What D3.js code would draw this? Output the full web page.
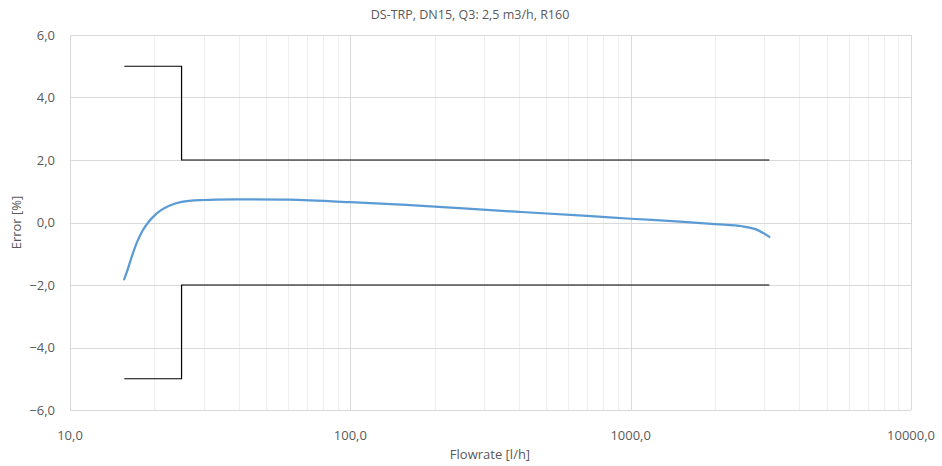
<!DOCTYPE html>
<meta charset="utf-8">
<title>DS-TRP, DN15</title>
<style>
  body { margin: 0; background: #fff; }
  text { font-family: "Open Sans", sans-serif; fill: #595959; }
</style>
<body>
  <div id="container"></div>
  <script src="https://cdn.jsdelivr.net/npm/d3@7/dist/d3.min.js"></script>
  <script>

    const width = 942;
    const height = 466;

    // measured curve
    const flow = [15.6, 16.0, 16.6, 17.3, 18.1, 19, 20, 21, 22.5, 25, 30, 40, 60, 100, 200, 400, 700, 1000, 1500, 2000, 2500, 2800, 3125];
    const error = [-1.82, -1.55, -1.1, -0.65, -0.28, 0.0, 0.22, 0.38, 0.53, 0.66, 0.72, 0.74, 0.73, 0.65, 0.51, 0.34, 0.21, 0.12, 0.03, -0.05, -0.12, -0.22, -0.46];

    // MPE limits
    const limitFlow = [15.625, 25, 25, 3125];
    const upperLimit = [5, 5, 2, 2];
    const lowerLimit = [-5, -5, -2, -2];

    const xTicks = [10, 100, 1000, 10000];
    const yTicks = [-6, -4, -2, 0, 2, 4, 6];

    const margin = {top: 35, right: 31, bottom: 56, left: 70};

    const svg = d3.select('#container')
      .append('svg')
      .attr('width', width)
      .attr('height', height);

    const x = d3.scaleLog()
      .domain([10, 10000])
      .range([margin.left, width - margin.right]);

    const y = d3.scaleLinear()
      .domain([-6, 6])
      .range([height - margin.bottom, margin.top]);

    const fmt = d => d3.format('.1f')(d).replace('.', ',');

    // minor vertical grid
    const minor = [];
    [10, 100, 1000].forEach(dec => {
      for (let k = 2; k <= 9; k++) minor.push(dec * k);
    });
    svg.append('g')
      .selectAll('line')
      .data(minor)
      .join('line')
      .attr('x1', d => Math.round(x(d)) + 0.5)
      .attr('x2', d => Math.round(x(d)) + 0.5)
      .attr('y1', y(-6))
      .attr('y2', y(6))
      .attr('stroke', '#efefef');

    // major grid
    svg.append('g')
      .selectAll('line')
      .data(yTicks)
      .join('line')
      .attr('x1', x(10))
      .attr('x2', x(10000))
      .attr('y1', d => Math.round(y(d)) + 0.5)
      .attr('y2', d => Math.round(y(d)) + 0.5)
      .attr('stroke', '#d9d9d9');

    svg.append('g')
      .selectAll('line')
      .data(xTicks)
      .join('line')
      .attr('x1', d => Math.round(x(d)) + 0.5)
      .attr('x2', d => Math.round(x(d)) + 0.5)
      .attr('y1', y(-6))
      .attr('y2', y(6))
      .attr('stroke', '#d9d9d9');

    // tick labels
    svg.append('g')
      .selectAll('text')
      .data(yTicks)
      .join('text')
      .attr('x', margin.left - 15)
      .attr('y', d => y(d) + 4.5)
      .attr('text-anchor', 'end')
      .attr('font-size', 13)
      .text(fmt);

    svg.append('g')
      .selectAll('text')
      .data(xTicks)
      .join('text')
      .attr('x', d => x(d))
      .attr('y', y(-6) + 30)
      .attr('text-anchor', 'middle')
      .attr('font-size', 13)
      .text(fmt);

    // limits
    const limitLine = d3.line()
      .x((d, i) => x(limitFlow[i]))
      .y(d => y(d));

    [upperLimit, lowerLimit].forEach(lim => {
      svg.append('path')
        .attr('d', limitLine(lim))
        .attr('fill', 'none')
        .attr('stroke', '#000')
        .attr('stroke-width', 1.2);
    });

    // error curve
    const curveLine = d3.line()
      .x((d, i) => x(flow[i]))
      .y(d => y(d))
      .curve(d3.curveCatmullRom.alpha(0.5));

    svg.append('path')
      .attr('d', curveLine(error))
      .attr('fill', 'none')
      .attr('stroke', '#5b9bd5')
      .attr('stroke-width', 2.25)
      .attr('stroke-linecap', 'round');

    // titles
    svg.append('text')
      .attr('x', 470)
      .attr('y', 19)
      .attr('text-anchor', 'middle')
      .attr('font-size', 12.5)
      .text('DS-TRP, DN15, Q3: 2,5 m3/h, R160');

    svg.append('text')
      .attr('x', 490)
      .attr('y', 459)
      .attr('text-anchor', 'middle')
      .attr('font-size', 13)
      .text('Flowrate [l/h]');

    svg.append('text')
      .attr('transform', `translate(21,${y(0)}) rotate(-90)`)
      .attr('text-anchor', 'middle')
      .attr('font-size', 13)
      .text('Error [%]');
  </script>
</body>
